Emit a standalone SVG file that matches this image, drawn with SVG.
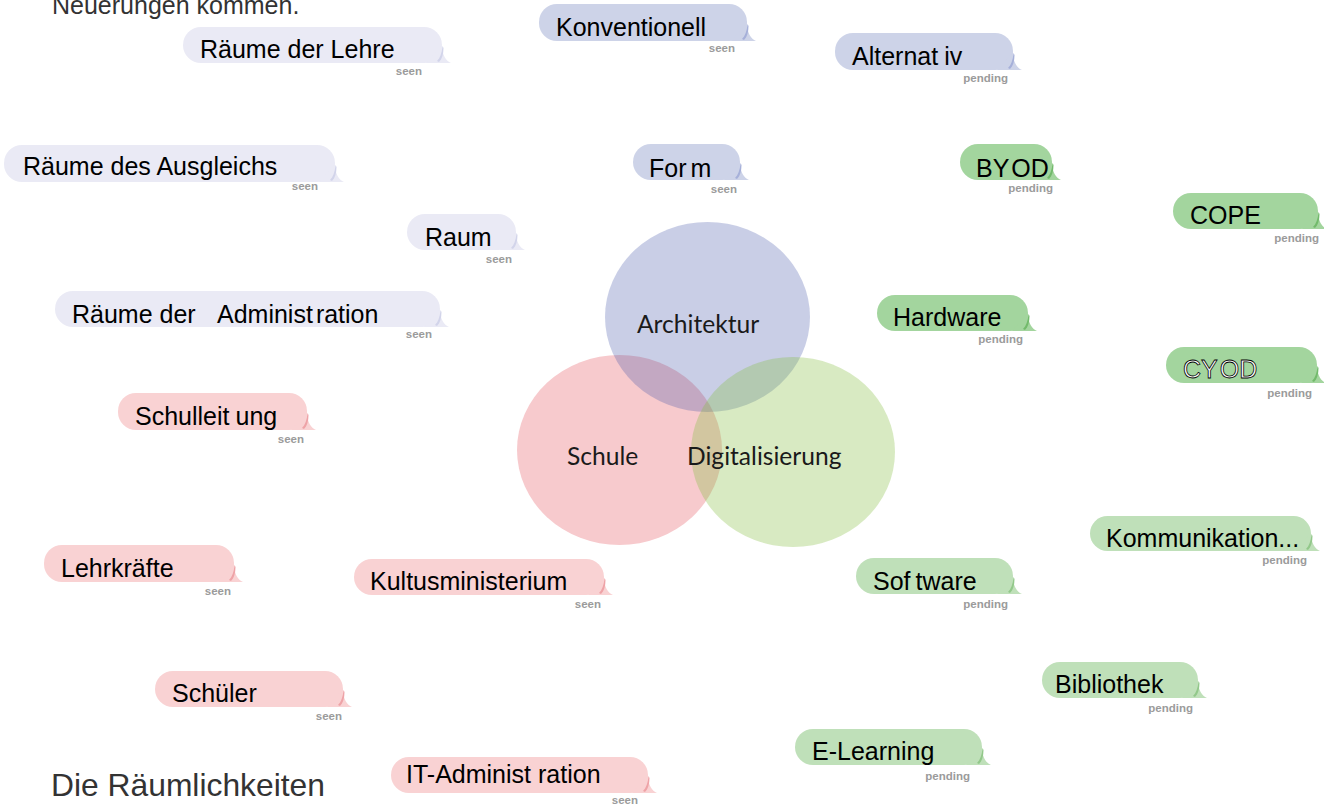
<svg xmlns="http://www.w3.org/2000/svg" xmlns:xlink="http://www.w3.org/1999/xlink" width="1324" height="805" viewBox="0 0 1324 805">
<style>
.t{font-family:"Liberation Sans",Arial,sans-serif;font-size:25px;fill:#000}
.s{font-family:"Liberation Sans",Arial,sans-serif;font-size:11.5px;font-weight:bold;fill:#9b9b9b;text-anchor:end}
.h{font-family:"Liberation Sans",Arial,sans-serif;fill:#333}
.v{font-family:Lato,"Open Sans",sans-serif;font-size:24.6px;fill:#1a1a1a}
.out{fill:#fff;stroke:#000;stroke-width:0.8}
.lv1{fill:#EAEAF5}.lv1d{fill:#D2D4EA}
.lv2{fill:#CDD3E8}.lv2d{fill:#A6B0D9}
.pk{fill:#F9D2D3}.pkd{fill:#EEA3A7}
.g1{fill:#A3D59E}.g1d{fill:#72BA6B}
.g2{fill:#BFE0B9}.g2d{fill:#92C88A}
</style>
<defs>
<path id="tail" d="M0,-18 C0,-8 4,-2 9,0 L-16,0 Z"/>
<path id="cres" d="M0.5,-17 C0,-10 -2,-5 -5,-2 L-3,-1 C0,-4 1.5,-9 1.5,-15 Z"/>
</defs>

<g id="venn">
<ellipse id="circle-schule" cx="619.5" cy="450" rx="102.5" ry="95" fill="#F7CACD"/>
<ellipse id="circle-architektur" cx="707.5" cy="317" rx="102.5" ry="95" fill="rgb(69,86,169)" fill-opacity="0.29"/>
<ellipse id="circle-digitalisierung" cx="793" cy="452" rx="102" ry="95" fill="rgb(133,189,64)" fill-opacity="0.32"/>
<text class="v" x="637" y="333">Architektur</text>
<text class="v" x="567" y="465">Schule</text>
<text class="v" x="687" y="465">Digitalisierung</text>
</g>

<g id="connectors"/>

<text class="h" x="52" y="14" font-size="25">Neuerungen kommen.</text>
<text class="h" x="51" y="796" font-size="31.8">Die Räumlichkeiten</text>

<g id="n-raeume-lehre">
<rect class="lv1" x="183" y="27" width="259" height="36" rx="18"/>
<use xlink:href="#tail" class="lv1" x="442" y="63"/><use xlink:href="#cres" class="lv1d" x="442" y="63"/>
<text class="t" x="200" y="58">Räume der Lehre</text>
<text class="s" x="422" y="75">seen</text>
</g>

<g id="n-raeume-ausgleich">
<rect class="lv1" x="4" y="145" width="331" height="37" rx="18"/>
<use xlink:href="#tail" class="lv1" x="335" y="182"/><use xlink:href="#cres" class="lv1d" x="335" y="182"/>
<text class="t" x="23" y="175">Räume des Ausgleichs</text>
<text class="s" x="318" y="190">seen</text>
</g>

<g id="n-konventionell">
<rect class="lv2" x="539" y="4" width="208" height="37" rx="18"/>
<use xlink:href="#tail" class="lv2" x="747" y="41"/><use xlink:href="#cres" class="lv2d" x="747" y="41"/>
<text class="t" x="556" y="36">Konventionell</text>
<text class="s" x="735" y="52">seen</text>
</g>

<g id="n-alternativ">
<rect class="lv2" x="835" y="33" width="178" height="37" rx="18"/>
<use xlink:href="#tail" class="lv2" x="1013" y="70"/><use xlink:href="#cres" class="lv2d" x="1013" y="70"/>
<text class="t" x="852" y="65">Alternat<tspan dx="6">iv</tspan></text>
<text class="s" x="1008" y="82">pending</text>
</g>

<g id="n-form">
<rect class="lv2" x="633" y="144" width="107" height="36" rx="18"/>
<use xlink:href="#tail" class="lv2" x="740" y="180"/><use xlink:href="#cres" class="lv2d" x="740" y="180"/>
<text class="t" x="649" y="177">For<tspan dx="4">m</tspan></text>
<text class="s" x="737" y="193">seen</text>
</g>

<g id="n-byod">
<rect class="g1" x="960" y="144" width="92" height="36" rx="18"/>
<use xlink:href="#tail" class="g1" x="1052" y="180"/><use xlink:href="#cres" class="g1d" x="1052" y="180"/>
<text class="t" x="976" y="177">BY<tspan dx="2">OD</tspan></text>
<text class="s" x="1053" y="192">pending</text>
</g>

<g id="n-cope">
<rect class="g1" x="1173" y="193" width="145" height="36" rx="18"/>
<use xlink:href="#tail" class="g1" x="1318" y="229"/><use xlink:href="#cres" class="g1d" x="1318" y="229"/>
<text class="t" x="1190" y="224">COPE</text>
<text class="s" x="1319" y="242">pending</text>
</g>

<g id="n-hardware">
<rect class="g1" x="877" y="295" width="151" height="36" rx="18"/>
<use xlink:href="#tail" class="g1" x="1028" y="331"/><use xlink:href="#cres" class="g1d" x="1028" y="331"/>
<text class="t" x="893" y="326">Hardware</text>
<text class="s" x="1023" y="343">pending</text>
</g>

<g id="n-cyod">
<rect class="g1" x="1166" y="347" width="151" height="36" rx="18"/>
<use xlink:href="#tail" class="g1" x="1317" y="383"/><use xlink:href="#cres" class="g1d" x="1317" y="383"/>
<text class="t out" x="1183" y="378">CY<tspan dx="2">OD</tspan></text>
<text class="s" x="1312" y="397">pending</text>
</g>

<g id="n-raum">
<rect class="lv1" x="407" y="214" width="109" height="36" rx="18"/>
<use xlink:href="#tail" class="lv1" x="516" y="250"/><use xlink:href="#cres" class="lv1d" x="516" y="250"/>
<text class="t" x="425" y="246">Raum</text>
<text class="s" x="512" y="263">seen</text>
</g>

<g id="n-raeume-administration">
<rect class="lv1" x="55" y="291" width="385" height="36" rx="18"/>
<use xlink:href="#tail" class="lv1" x="440" y="327"/><use xlink:href="#cres" class="lv1d" x="440" y="327"/>
<text class="t" x="72" y="323">Räume der <tspan x="217">Administ</tspan><tspan dx="3">ration</tspan></text>
<text class="s" x="432" y="338">seen</text>
</g>

<g id="n-schulleitung">
<rect class="pk" x="118" y="393" width="189" height="37" rx="18"/>
<use xlink:href="#tail" class="pk" x="307" y="430"/><use xlink:href="#cres" class="pkd" x="307" y="430"/>
<text class="t" x="135" y="425">Schulleit<tspan dx="6">ung</tspan></text>
<text class="s" x="304" y="443">seen</text>
</g>

<g id="n-lehrkraefte">
<rect class="pk" x="44" y="545" width="190" height="37" rx="18"/>
<use xlink:href="#tail" class="pk" x="234" y="582"/><use xlink:href="#cres" class="pkd" x="234" y="582"/>
<text class="t" x="61" y="577">Lehrkräfte</text>
<text class="s" x="231" y="595">seen</text>
</g>

<g id="n-kultusministerium">
<rect class="pk" x="354" y="559" width="250" height="36" rx="18"/>
<use xlink:href="#tail" class="pk" x="604" y="595"/><use xlink:href="#cres" class="pkd" x="604" y="595"/>
<text class="t" x="370" y="590">Kultusministerium</text>
<text class="s" x="601" y="608">seen</text>
</g>

<g id="n-schueler">
<rect class="pk" x="155" y="671" width="188" height="36" rx="18"/>
<use xlink:href="#tail" class="pk" x="343" y="707"/><use xlink:href="#cres" class="pkd" x="343" y="707"/>
<text class="t" x="172" y="702">Schüler</text>
<text class="s" x="342" y="720">seen</text>
</g>

<g id="n-it-administration">
<rect class="pk" x="391" y="757" width="257" height="36" rx="18"/>
<use xlink:href="#tail" class="pk" x="648" y="793"/><use xlink:href="#cres" class="pkd" x="648" y="793"/>
<text class="t" x="406" y="783">IT-Administ<tspan dx="7">ration</tspan></text>
<text class="s" x="638" y="804">seen</text>
</g>

<g id="n-kommunikation">
<rect class="g2" x="1090" y="516" width="221" height="35" rx="17.5"/>
<use xlink:href="#tail" class="g2" x="1311" y="551"/><use xlink:href="#cres" class="g2d" x="1311" y="551"/>
<text class="t" x="1106" y="547">Kommunikation...</text>
<text class="s" x="1307" y="564">pending</text>
</g>

<g id="n-software">
<rect class="g2" x="856" y="558" width="157" height="36" rx="18"/>
<use xlink:href="#tail" class="g2" x="1013" y="594"/><use xlink:href="#cres" class="g2d" x="1013" y="594"/>
<text class="t" x="873" y="590">Sof<tspan dx="5">tware</tspan></text>
<text class="s" x="1008" y="608">pending</text>
</g>

<g id="n-bibliothek">
<rect class="g2" x="1042" y="662" width="156" height="36" rx="18"/>
<use xlink:href="#tail" class="g2" x="1198" y="698"/><use xlink:href="#cres" class="g2d" x="1198" y="698"/>
<text class="t" x="1055" y="693">Bibliothek</text>
<text class="s" x="1193" y="712">pending</text>
</g>

<g id="n-elearning">
<rect class="g2" x="795" y="729" width="187" height="36" rx="18"/>
<use xlink:href="#tail" class="g2" x="982" y="765"/><use xlink:href="#cres" class="g2d" x="982" y="765"/>
<text class="t" x="812" y="760">E-Learning</text>
<text class="s" x="970" y="780">pending</text>
</g>
</svg>
